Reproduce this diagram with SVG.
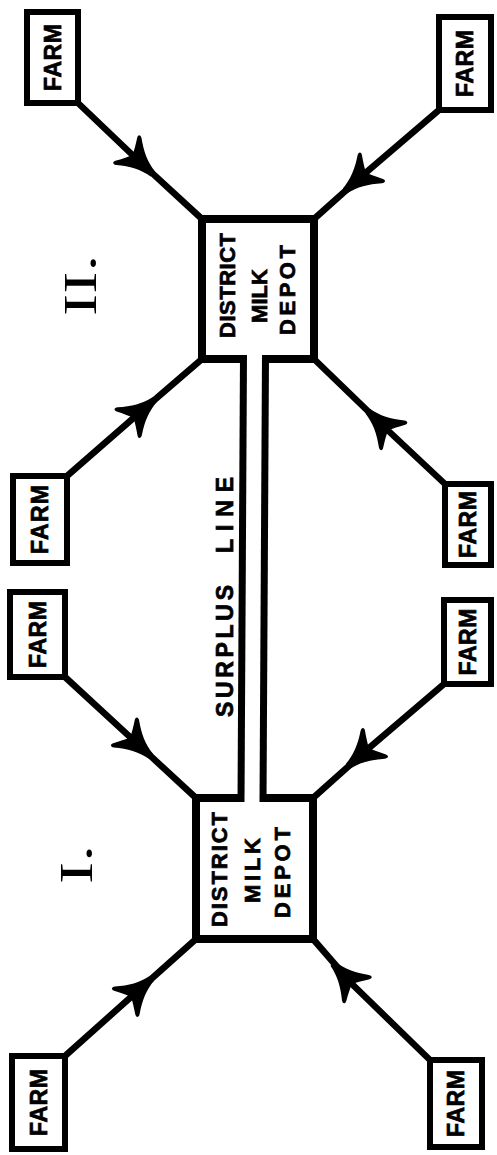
<svg xmlns="http://www.w3.org/2000/svg" width="497" height="1155" viewBox="0 0 497 1155">
<style>
.bg{fill:#ffffff}
.farm rect{fill:#ffffff;stroke:#000;stroke-width:6}
.depot path{fill:none;stroke:#000;stroke-width:8;stroke-linejoin:miter}
.depot rect{fill:#ffffff;stroke:none}
.lbl{font-family:"Liberation Sans",Arial,sans-serif;font-weight:bold;fill:#000;stroke:#000;stroke-width:0.7;text-anchor:middle}
.fl{font-size:23px}
.dl{font-size:22px}
.sl{font-size:23px}
.num{font-family:"Liberation Serif","Times New Roman",serif;font-size:46px;fill:#000}
.feed{fill:none;stroke:#000;stroke-width:6.5;marker-mid:url(#barb)}
.surplus{fill:none;stroke:#000;stroke-width:7}
</style>
<defs>
<marker id="barb" markerUnits="userSpaceOnUse" orient="auto" viewBox="-40 -30 80 60" markerWidth="80" markerHeight="60" refX="0" refY="0" overflow="visible">
<path d="M28,-3.2 C16,-5 6,-10 -5,-18.5 C-8,-20.5 -10,-19 -8.5,-16 C-5,-10 -2,-5 0,0 C-2,5 -5,10 -8.5,16 C-10,19 -8,20.5 -5,18.5 C6,10 16,5 28,3.2 Z" fill="#000"/>
</marker>
</defs>
<rect class="bg" x="0" y="0" width="497" height="1155"/>

<g id="depot-2" class="depot">
<rect x="202" y="219" width="112" height="140"/>
<path d="M243.5,359 H202 V219 H314 V359 H265.5"/>
<text class="lbl dl" textLength="105" transform="translate(235,285.5) rotate(-90)">DISTRICT</text>
<text class="lbl dl" textLength="54" transform="translate(267,296) rotate(-90)">MILK</text>
<text class="lbl dl" textLength="90" transform="translate(295,290) rotate(-90)">DEPOT</text>
</g>

<g id="depot-1" class="depot">
<rect x="196" y="798" width="117" height="141"/>
<path d="M241,798 H196 V939 H313 V798 H263"/>
<text class="lbl dl" textLength="115" transform="translate(227,869.5) rotate(-90)">DISTRICT</text>
<text class="lbl dl" textLength="65" transform="translate(259.5,870.5) rotate(-90)">MILK</text>
<text class="lbl dl" textLength="91" transform="translate(289.5,872.5) rotate(-90)">DEPOT</text>
</g>

<g id="label-2">
<text class="num" transform="translate(96,316) rotate(-90) scale(1.45,1)">II.</text>
</g>
<g id="label-1">
<text class="num" transform="translate(92,884) rotate(-90) scale(1.45,1)">I.</text>
</g>

<g id="farm-1" class="farm">
<rect x="27" y="12" width="51" height="91"/>
<text class="lbl fl" textLength="67" transform="translate(60.5,57.5) rotate(-90)">FARM</text>
</g>
<g id="farm-2" class="farm">
<rect x="439" y="17" width="52" height="93"/>
<text class="lbl fl" textLength="67" transform="translate(473,63.5) rotate(-90)">FARM</text>
</g>
<g id="farm-3" class="farm">
<rect x="13" y="476" width="54" height="87"/>
<text class="lbl fl" textLength="69" transform="translate(48,519.5) rotate(-90)">FARM</text>
</g>
<g id="farm-4" class="farm">
<rect x="445" y="484" width="46" height="81"/>
<text class="lbl fl" textLength="67" transform="translate(476,524.5) rotate(-90)">FARM</text>
</g>
<g id="farm-5" class="farm">
<rect x="10" y="592" width="55" height="85"/>
<text class="lbl fl" textLength="67" transform="translate(45.5,634.5) rotate(-90)">FARM</text>
</g>
<g id="farm-6" class="farm">
<rect x="444" y="600" width="47" height="84"/>
<text class="lbl fl" textLength="67" transform="translate(475.5,642) rotate(-90)">FARM</text>
</g>
<g id="farm-7" class="farm">
<rect x="12" y="1056" width="53" height="93"/>
<text class="lbl fl" textLength="67" transform="translate(46.5,1102.5) rotate(-90)">FARM</text>
</g>
<g id="farm-8" class="farm">
<rect x="430" y="1060" width="52" height="87"/>
<text class="lbl fl" textLength="67" transform="translate(464,1103.5) rotate(-90)">FARM</text>
</g>

<g id="connectors">
<path class="feed" d="M78,103 L132.5,155 L202,219"/>
<path class="feed" d="M439,110 L366,172.5 L314,219"/>
<path class="feed" d="M67,476 L133.5,418 L202,359"/>
<path class="feed" d="M445,484 L388,430.5 L314,359"/>
<path class="feed" d="M65,677 L130.2,737.2 L196,798"/>
<path class="feed" d="M444,684 L369,748 L313,798"/>
<path class="feed" d="M65,1056 L131,997 L196,939"/>
<path class="feed" d="M430,1060 L352,984 L313,939"/>
<g id="surplus-line">
<polygon points="247,354 262,354 259.5,803 244.5,803" fill="#ffffff"/>
<line class="surplus" x1="243.5" y1="355" x2="241" y2="802"/>
<line class="surplus" x1="265.5" y1="355" x2="263" y2="802"/>
<text class="lbl sl" textLength="132" transform="translate(233,651) rotate(-90)">SURPLUS</text>
<text class="lbl sl" textLength="76" transform="translate(233,515) rotate(-90)">LINE</text>
</g>
</g>
</svg>
